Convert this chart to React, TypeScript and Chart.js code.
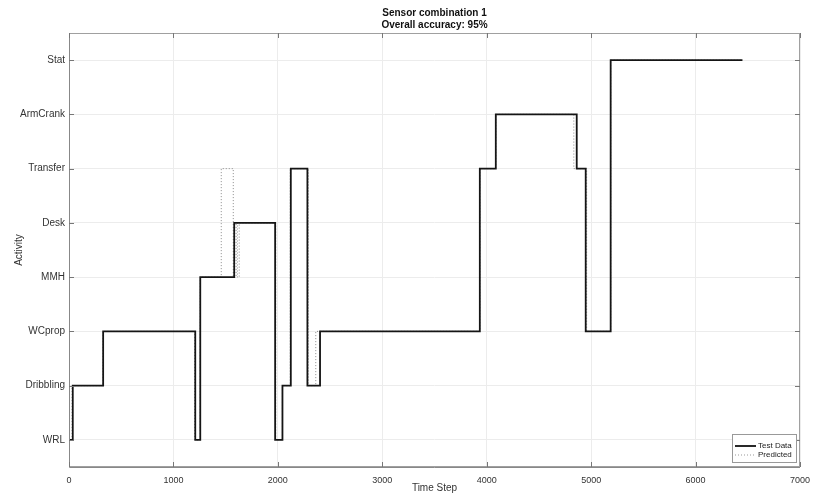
import React, { useEffect, useRef } from "react";
import { Chart, registerables } from "chart.js";

Chart.register(...registerables);

const categories = ["WRL", "Dribbling", "WCprop", "MMH", "Desk", "Transfer", "ArmCrank", "Stat"];
const xTickValues = [0, 1000, 2000, 3000, 4000, 5000, 6000, 7000];

const testTimes = [0, 36, 327, 1209, 1257, 1582, 1974, 2044, 2124, 2283, 2404, 3934, 4087, 4862, 4948, 5187, 6449];
const testActivity = ["WRL", "Dribbling", "WCprop", "WRL", "MMH", "Desk", "WRL", "Dribbling", "Transfer", "Dribbling", "WCprop", "Transfer", "ArmCrank", "Transfer", "WCprop", "Stat", "Stat"];

const predTimes = [0, 30, 327, 1205, 1257, 1458, 1573, 1600, 1612, 1630, 1980, 2044, 2118, 2292, 2363, 3934, 4087, 4834, 4957, 5187, 6449];
const predActivity = ["WRL", "Dribbling", "WCprop", "WRL", "MMH", "Transfer", "MMH", "Desk", "MMH", "Desk", "WRL", "Dribbling", "Transfer", "Dribbling", "WCprop", "Transfer", "ArmCrank", "Transfer", "WCprop", "Stat", "Stat"];

const titleLines = ["Sensor combination 1", "Overall accuracy: 95%"];
const xTitle = "Time Step";
const yTitle = "Activity";
const seriesNames = ["Test Data", "Predicted"];

const FONT = "'Liberation Sans', Arial, sans-serif";

const toPoints = (times: number[], acts: string[]) =>
  times.map((t, i) => ({ x: t, y: categories.indexOf(acts[i]) + 1 }));

const decorPlugin = {
  id: "decor",
  afterDraw(chart: any) {
    const { ctx, chartArea } = chart;
    const { left, right, top, bottom } = chartArea;
    ctx.save();
    // box
    ctx.strokeStyle = "#a0a0a0";
    ctx.lineWidth = 1;
    ctx.strokeRect(left + 0.5, top + 0.5, right - left - 1, bottom - top - 1);
    ctx.strokeStyle = "#888";
    ctx.beginPath();
    ctx.moveTo(left + 0.5, top);
    ctx.lineTo(left + 0.5, bottom + 0.5);
    ctx.lineTo(right, bottom + 0.5);
    ctx.stroke();
    // inward ticks
    const xs = chart.scales.x;
    const ys = chart.scales.y;
    ctx.strokeStyle = "#777";
    ctx.beginPath();
    xTickValues.forEach((v) => {
      const px = Math.round(xs.getPixelForValue(v)) + 0.5;
      ctx.moveTo(px, bottom);
      ctx.lineTo(px, bottom - 5);
      ctx.moveTo(px, top);
      ctx.lineTo(px, top + 5);
    });
    categories.forEach((_, i) => {
      const py = Math.round(ys.getPixelForValue(i + 1)) + 0.5;
      ctx.moveTo(left, py);
      ctx.lineTo(left + 5, py);
      ctx.moveTo(right, py);
      ctx.lineTo(right - 5, py);
    });
    ctx.stroke();

    // titles
    const cx = (left + right) / 2;
    ctx.fillStyle = "#111";
    ctx.textAlign = "center";
    ctx.textBaseline = "middle";
    ctx.font = `bold 10px ${FONT}`;
    ctx.fillText(titleLines[0], cx, 13);
    ctx.fillText(titleLines[1], cx, 25);
    ctx.fillStyle = "#333";
    ctx.font = `10px ${FONT}`;
    ctx.fillText(xTitle, cx, 488);
    ctx.save();
    ctx.translate(19, (top + bottom) / 2);
    ctx.rotate(-Math.PI / 2);
    ctx.fillText(yTitle, 0, 0);
    ctx.restore();

    // legend
    const lw = 64, lh = 28;
    const lx = right - 68, ly = bottom - 33;
    ctx.fillStyle = "#fff";
    ctx.fillRect(lx, ly, lw, lh);
    ctx.strokeStyle = "#999";
    ctx.lineWidth = 1;
    ctx.strokeRect(lx + 0.5, ly + 0.5, lw, lh);
    ctx.font = `8px ${FONT}`;
    ctx.textAlign = "left";
    ctx.fillStyle = "#222";
    ctx.strokeStyle = "#111";
    ctx.lineWidth = 1.8;
    ctx.beginPath();
    ctx.moveTo(lx + 3, ly + 12);
    ctx.lineTo(lx + 24, ly + 12);
    ctx.stroke();
    ctx.fillText(seriesNames[0], lx + 26, ly + 12);
    ctx.strokeStyle = "#999";
    ctx.lineWidth = 1;
    ctx.setLineDash([1, 2]);
    ctx.beginPath();
    ctx.moveTo(lx + 3, ly + 21);
    ctx.lineTo(lx + 24, ly + 21);
    ctx.stroke();
    ctx.setLineDash([]);
    ctx.fillText(seriesNames[1], lx + 26, ly + 21);
    ctx.restore();
  },
};

export default function App() {
  const ref = useRef<HTMLCanvasElement>(null);
  useEffect(() => {
    if (!ref.current) return;
    const chart = new Chart(ref.current, {
      type: "line",
      data: {
        datasets: [
          {
            label: seriesNames[0],
            data: toPoints(testTimes, testActivity),
            borderColor: "#151515",
            borderWidth: 1.8,
            stepped: "before",
            pointRadius: 0,
            fill: false,
            order: 1,
          },
          {
            label: seriesNames[1],
            data: toPoints(predTimes, predActivity),
            borderColor: "#8a8a8a",
            borderWidth: 1,
            borderDash: [1, 2],
            stepped: "before",
            pointRadius: 0,
            fill: false,
            order: 2,
          },
        ],
      },
      options: {
        responsive: false,
        animation: false,
        devicePixelRatio: 1,
        layout: { padding: { top: 33, right: 13, left: 0, bottom: 0 } },
        plugins: {
          legend: { display: false },
          title: { display: false },
          tooltip: { enabled: false },
        },
        scales: {
          x: {
            type: "linear",
            min: 0,
            max: 7000,
            afterBuildTicks: (s: any) => {
              s.ticks = xTickValues.map((v) => ({ value: v }));
            },
            afterFit: (s: any) => {
              s.height = 27;
              s.paddingLeft = 0;
              s.paddingRight = 0;
            },
            grid: { color: "#ececec", drawTicks: false, lineWidth: 1 },
            border: { display: false },
            ticks: {
              padding: 8,
              color: "#333",
              font: { family: FONT, size: 9 },
              maxRotation: 0,
              callback: (v: any) => String(v),
            },
          },
          y: {
            type: "linear",
            min: 0.5,
            max: 8.5,
            afterBuildTicks: (s: any) => {
              s.ticks = categories.map((_, i) => ({ value: i + 1 }));
            },
            afterFit: (s: any) => {
              s.width = 69;
              s.paddingTop = 0;
              s.paddingBottom = 0;
            },
            grid: { color: "#ececec", drawTicks: false, lineWidth: 1 },
            border: { display: false },
            ticks: {
              padding: 4,
              color: "#333",
              font: { family: FONT, size: 10 },
              callback: (v: any) => categories[Math.round(v) - 1] ?? "",
            },
          },
        },
      },
      plugins: [decorPlugin],
    });
    return () => chart.destroy();
  }, []);
  return (
    <div style={{ position: "fixed", left: 0, top: 0, width: 813, height: 494, background: "#fff" }}>
      <canvas ref={ref} width={813} height={494} style={{ display: "block" }} />
    </div>
  );
}
